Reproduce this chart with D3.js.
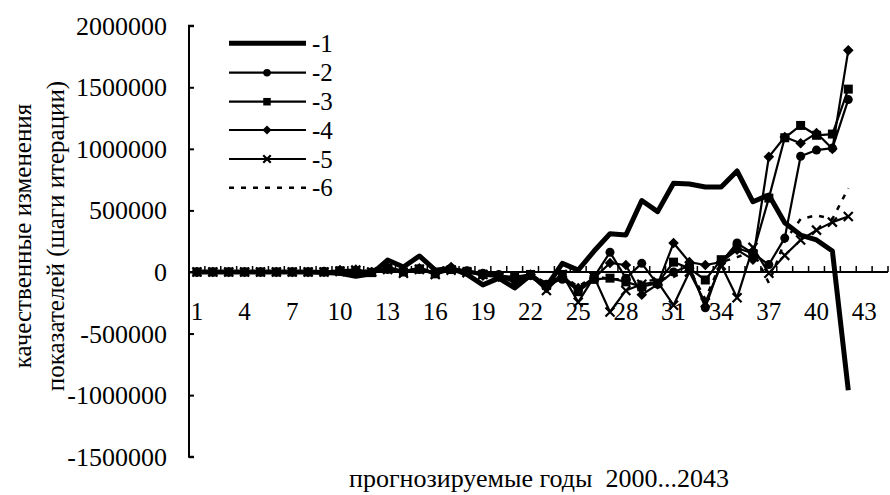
<!DOCTYPE html>
<html><head><meta charset="utf-8">
<script src="https://cdn.jsdelivr.net/npm/d3@7"></script>
<style>
body{margin:0;background:#fff;}
</style></head>
<body><svg id="c" width="890" height="495"></svg>
<script>
const categories = [1,2,3,4,5,6,7,8,9,10,11,12,13,14,15,16,17,18,19,20,21,22,23,24,25,26,27,28,29,30,31,32,33,34,35,36,37,38,39,40,41,42,43,44];
const xTickLabels = [1,4,7,10,13,16,19,22,25,28,31,34,37,40,43];
const yTicks = [-1500000,-1000000,-500000,0,500000,1000000,1500000,2000000];
const seriesNames = ["-1","-2","-3","-4","-5","-6"];
const s1 = [0,0,0,0,0,0,0,0,-5000,-10000,-35000,-15000,97000,40000,130000,15000,30000,-20000,-105000,-50000,-130000,-25000,-120000,70000,15000,170000,310000,300000,580000,490000,720000,715000,690000,690000,820000,570000,625000,400000,300000,260000,170000,-960000];
const s2 = [0,0,0,0,0,0,0,0,5000,5000,10000,0,20000,10000,20000,-10000,30000,10000,-10000,-20000,-60000,-30000,-100000,-60000,-150000,-40000,160000,-50000,70000,-100000,0,50000,-290000,80000,235000,150000,60000,275000,940000,990000,1006000,1400000];
const s3 = [0,0,0,0,0,0,0,0,0,10000,5000,-5000,30000,0,25000,-15000,20000,5000,-20000,-30000,-40000,-20000,-110000,-20000,-160000,-60000,-50000,-80000,-120000,-90000,80000,30000,-65000,100000,195000,150000,600000,1090000,1190000,1110000,1120000,1485000];
const s4 = [0,0,0,0,0,0,0,0,0,15000,20000,0,40000,10000,30000,-5000,40000,0,-30000,-40000,-70000,-20000,-130000,-40000,-130000,-50000,73000,57000,-185000,-100000,235000,80000,57000,80000,180000,100000,935000,1096000,1045000,1128000,1000000,1800000];
const s5 = [0,0,0,0,0,0,0,0,0,5000,15000,0,20000,-10000,20000,-20000,15000,-5000,-20000,-40000,-80000,-30000,-150000,-20000,-245000,-40000,-325000,-150000,-100000,-80000,-270000,0,-250000,55000,-210000,200000,-10000,135000,260000,340000,405000,450000];
const s6 = [0,0,0,0,0,0,0,0,5000,10000,20000,5000,40000,10000,30000,0,30000,10000,-10000,-30000,-60000,-20000,-90000,-30000,-120000,-30000,-60000,-60000,-80000,-60000,-40000,20000,-220000,80000,120000,170000,-90000,250000,430000,460000,430000,680000];

const allSeries = [s1,s2,s3,s4,s5,s6];
const styles = [
  {w:5, dash:null, marker:null},
  {w:2.2, dash:null, marker:"circle"},
  {w:2.2, dash:null, marker:"square"},
  {w:2.2, dash:null, marker:"diamond"},
  {w:2.2, dash:null, marker:"cross"},
  {w:2.5, dash:"5,7", marker:null}
];
const FONT = "Liberation Serif";

const svg = d3.select("#c");
const x = d3.scaleBand().domain(categories).range([189, 888]).paddingInner(0).paddingOuter(0);
const y = d3.scaleLinear().domain([-1500000, 2000000]).range([456.7, 25.7]);
const cx = c => x(c) + x.bandwidth()/2;

// Y axis
const yAxis = d3.axisRight(y).tickValues(yTicks).tickSize(5).tickFormat("");
const gy = svg.append("g").attr("transform","translate(189,0)").call(yAxis);
gy.select(".domain").attr("d", `M5,${y(2000000)}H0V${y(-1500000)}H5`).attr("stroke","#000").attr("stroke-width",2);
gy.selectAll(".tick line").attr("stroke","#000").attr("stroke-width",2);
svg.append("g").selectAll("text").data(yTicks).join("text")
  .attr("x",167).attr("y",d=>y(d)+9).attr("text-anchor","end").style("font-family",FONT)
  .attr("font-size",26).text(d=>String(d));

// X axis at 0
const gx = svg.append("g");
gx.append("line").attr("x1",189).attr("x2",888).attr("y1",y(0)).attr("y2",y(0)).attr("stroke","#000").attr("stroke-width",2);
const edges = categories.map(c=>x(c)).concat([x(categories[categories.length-1])+x.bandwidth()]);
gx.selectAll("line.tk").data(edges.slice(1)).join("line").attr("class","tk")
  .attr("x1",d=>d).attr("x2",d=>d).attr("y1",y(0)).attr("y2",y(0)-6).attr("stroke","#000").attr("stroke-width",1.5);
gx.selectAll("text").data(xTickLabels).join("text")
  .attr("x",d=>cx(d)).attr("y",320).attr("text-anchor","middle").style("font-family",FONT).attr("font-size",25).text(d=>d);

// Axis titles
svg.append("text").attr("x",539).attr("y",487).attr("text-anchor","middle").attr("font-size",26).style("font-family",FONT)
  .style("white-space","pre").text("прогнозируемые годы  2000...2043");
const yt = svg.append("text").attr("transform","translate(0,236) rotate(-90)").attr("text-anchor","middle").attr("font-size",25).style("font-family",FONT);
yt.append("tspan").attr("x",0).attr("y",31).text("качественные изменения");
yt.append("tspan").attr("x",0).attr("y",64).text("показателей (шаги итерации)");

// marker drawer
function drawMarker(g, type, size){
  const s = size;
  if(type==="circle") g.append("circle").attr("r",s/2).attr("fill","#000");
  else if(type==="square") g.append("rect").attr("x",-s/2).attr("y",-s/2).attr("width",s).attr("height",s).attr("fill","#000");
  else if(type==="diamond") g.append("path").attr("d",`M0,${-s/2-0.8}L${s/2+0.8},0L0,${s/2+0.8}L${-s/2-0.8},0Z`).attr("fill","#000");
  else if(type==="cross") g.append("path").attr("d",`M${-s/2},${-s/2}L${s/2},${s/2}M${-s/2},${s/2}L${s/2},${-s/2}`).attr("stroke","#000").attr("stroke-width",2.2);
}

// Lines
const line = d3.line().x((d,i)=>cx(categories[i])).y(d=>y(d));
allSeries.forEach((s,k)=>{
  const st = styles[k];
  svg.append("path").datum(s).attr("d",line).attr("fill","none").attr("stroke","#000")
    .attr("stroke-width",st.w).attr("stroke-linejoin","round")
    .attr("stroke-dasharray",st.dash);
  if(st.marker){
    s.forEach((v,i)=>{
      const g = svg.append("g").attr("transform",`translate(${cx(categories[i])},${y(v)})`);
      drawMarker(g, st.marker, 9);
    });
  }
});

// Legend
const legY = [43.3,72.7,101.7,130,159,187.7];
seriesNames.forEach((n,k)=>{
  const st = styles[k];
  svg.append("line").attr("x1",229).attr("x2",306).attr("y1",legY[k]).attr("y2",legY[k])
    .attr("stroke","#000").attr("stroke-width",st.w).attr("stroke-dasharray",st.dash);
  if(st.marker){
    const g = svg.append("g").attr("transform",`translate(267,${legY[k]})`);
    drawMarker(g, st.marker, 7.5);
  }
  svg.append("text").attr("x",312).attr("y",legY[k]+8.5).style("font-family",FONT).attr("font-size",25).text(n);
});
</script></body></html>
